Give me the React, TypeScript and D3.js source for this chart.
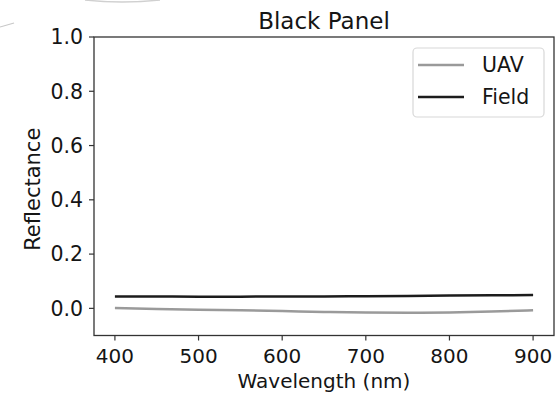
import React from "react";
import * as d3 from "d3";

// Spectral reflectance of the black calibration panel
const wavelengths = [400, 450, 500, 550, 600, 650, 700, 750, 800, 850, 900];
const uavReflectance = [0.001, -0.002, -0.005, -0.007, -0.01, -0.013, -0.015, -0.016, -0.015, -0.012, -0.007];
const fieldReflectance = [0.044, 0.044, 0.043, 0.043, 0.044, 0.044, 0.045, 0.046, 0.047, 0.048, 0.049];

const xTicks = [400, 500, 600, 700, 800, 900];
const yTicks = [0, 0.2, 0.4, 0.6, 0.8, 1.0];

const seriesNames = ["UAV", "Field"];
const seriesColors = ["#9a9a9a", "#1c1c1c"];

const W = 555;
const H = 397;
const left = 94;
const right = 554;
const top = 37;
const bottom = 335.5;
const FONT = "DejaVu Sans, sans-serif";
const TEXT = "#151515";

export default function App() {
  const x = d3.scaleLinear().domain([375, 925]).range([left, right]);
  const y = d3.scaleLinear().domain([-0.1, 1.0]).range([bottom, top]);

  const line = d3
    .line<number>()
    .x((_, i) => x(wavelengths[i]))
    .y((d) => y(d))
    .curve(d3.curveMonotoneX);

  const series = [uavReflectance, fieldReflectance];

  return (
    <svg
      width={W}
      height={H}
      style={{ position: "absolute", left: 0, top: 0, background: "#fff" }}
      fontFamily={FONT}
    >
      {/* faint stray strokes along the top edge */}
      <path d="M0,27 L14,23" stroke="#c8c8c8" strokeWidth={1.2} fill="none" />
      <path d="M85,0 Q122,4 160,0" stroke="#d0d0d0" strokeWidth={1.5} fill="none" />

      <text x={(left + right) / 2} y={29} textAnchor="middle" fontSize={23} fill={TEXT}>
        Black Panel
      </text>

      {/* data lines */}
      {series.map((s, i) => (
        <path
          key={seriesNames[i]}
          d={line(s) || ""}
          fill="none"
          stroke={seriesColors[i]}
          strokeWidth={2.5}
        />
      ))}

      {/* frame */}
      <rect
        x={left}
        y={top}
        width={right - left}
        height={bottom - top}
        fill="none"
        stroke="#333"
        strokeWidth={1.3}
      />

      {/* x axis */}
      {xTicks.map((t) => (
        <g key={t}>
          <line x1={x(t)} x2={x(t)} y1={bottom} y2={bottom + 5} stroke="#333" strokeWidth={1.2} />
          <text x={x(t)} y={363} textAnchor="middle" fontSize={20} fill={TEXT}>
            {t}
          </text>
        </g>
      ))}
      <text x={(left + right) / 2} y={388} textAnchor="middle" fontSize={20} fill={TEXT}>
        Wavelength (nm)
      </text>

      {/* y axis */}
      {yTicks.map((t) => (
        <g key={t}>
          <line x1={left - 5} x2={left} y1={y(t)} y2={y(t)} stroke="#333" strokeWidth={1.2} />
          <text
            x={83}
            y={y(t)}
            dy="0.36em"
            textAnchor="end"
            fontSize={20.5}
            fill={TEXT}
          >
            {t.toFixed(1)}
          </text>
        </g>
      ))}
      <text
        transform={`translate(40,${(top + bottom) / 2 + 3}) rotate(-90)`}
        textAnchor="middle"
        fontSize={21}
        fill={TEXT}
      >
        Reflectance
      </text>

      {/* legend */}
      <rect x={413} y={48} width={131} height={69} rx={4} fill="#fff" stroke="#d8d8d8" strokeWidth={1.2} />
      {seriesNames.map((name, i) => (
        <g key={name}>
          <line
            x1={418}
            x2={464}
            y1={65 + i * 32}
            y2={65 + i * 32}
            stroke={seriesColors[i]}
            strokeWidth={2.5}
          />
          <text x={482} y={65 + i * 32} dy="0.36em" fontSize={20.5} fill={TEXT}>
            {name}
          </text>
        </g>
      ))}
    </svg>
  );
}
